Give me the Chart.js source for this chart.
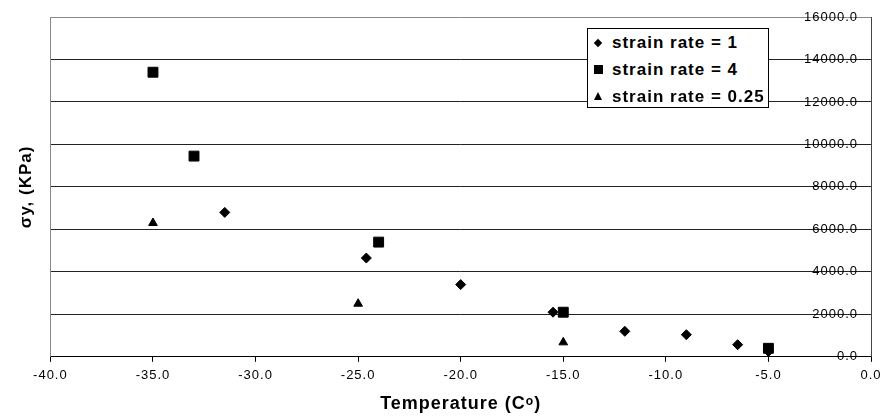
<!DOCTYPE html>
<html>
<head>
<meta charset="utf-8">
<script src="https://cdn.jsdelivr.net/npm/chart.js@4.4.1/dist/chart.umd.min.js"></script>
<style>
  html, body { margin: 0; padding: 0; background: #fff; }
  #wrap { position: relative; width: 881px; height: 418px; }
  #legend {
    position: absolute; left: 587px; top: 28px; width: 182px; height: 80px;
    box-sizing: border-box; border: 1px solid #000; background: #fff;
    font: bold 17px "Liberation Sans", Arial, sans-serif; letter-spacing: 1px; color: #000;
  }
  .row { position: relative; height: 27px; line-height: 27px; padding-left: 24px; white-space: nowrap; }
  .mk { position: absolute; top: 50%; background: #000; }
  .mk.diamond { left: 7px; width: 6px; height: 6px; margin-top: -3px; transform: rotate(45deg); }
  .mk.square { left: 6px; width: 9px; height: 9px; margin-top: -5px; }
  .mk.triangle { left: 6px; width: 0; height: 0; margin-top: -5px; background: none;
    border-left: 4.5px solid transparent; border-right: 4.5px solid transparent; border-bottom: 8px solid #000; }
</style>
</head>
<body>
<div id="wrap">
  <canvas id="chart"></canvas>
  <div id="legend"></div>
</div>
<script>
// data
const seriesNames = ["strain rate = 1", "strain rate = 4", "strain rate = 0.25"];
const markers = ["diamond", "square", "triangle"];

const temps1 = [-31.5, -24.6, -20, -15.5, -12, -9, -6.5, -5];
const stress1 = [6800, 4650, 3400, 2100, 1200, 1040, 570, 250];

const temps4 = [-35, -33, -24, -15, -5];
const stress4 = [13400, 9450, 5400, 2100, 400];

const temps025 = [-35, -25, -15];
const stress025 = [6300, 2500, 680];

const xTitle = "Temperature (Cᵒ)";
const yTitle = "σy, (KPa)";

const FONT = '"Liberation Sans", Arial, sans-serif';

function toPoints(xs, ys) {
  return xs.map((x, i) => ({ x, y: ys[i] }));
}

// excel-ish wide text
const spacing = {
  id: 'spacing',
  beforeDraw(chart) { chart.ctx.letterSpacing = '1px'; }
};

// left plot border (grey) and the value axis on the right
const frame = {
  id: 'frame',
  beforeDatasetsDraw(chart) {
    const { ctx, chartArea: a } = chart;
    ctx.save();
    ctx.lineWidth = 1;
    ctx.strokeStyle = '#888';
    ctx.beginPath();
    ctx.moveTo(Math.round(a.left) + 0.5, a.top);
    ctx.lineTo(Math.round(a.left) + 0.5, a.bottom);
    ctx.stroke();
    ctx.strokeStyle = '#444';
    ctx.beginPath();
    ctx.moveTo(Math.round(a.right) + 0.5, a.top);
    ctx.lineTo(Math.round(a.right) + 0.5, a.bottom);
    ctx.stroke();
    ctx.restore();
  }
};

const ctx = document.getElementById('chart').getContext('2d');
new Chart(ctx, {
  type: 'scatter',
  data: {
    datasets: [
      { label: seriesNames[0], data: toPoints(temps1, stress1), pointStyle: 'rectRot', pointRadius: 5,
        backgroundColor: '#000', borderColor: '#000', borderWidth: 1, order: 3 },
      { label: seriesNames[1], data: toPoints(temps4, stress4), pointStyle: 'rect', pointRadius: 7,
        backgroundColor: '#000', borderColor: '#000', borderWidth: 1, order: 1 },
      { label: seriesNames[2], data: toPoints(temps025, stress025), pointStyle: 'triangle', pointRadius: 5,
        backgroundColor: '#000', borderColor: '#000', borderWidth: 1, order: 2 }
    ]
  },
  options: {
    responsive: true,
    maintainAspectRatio: false,
    animation: false,
    layout: { padding: { left: 0, right: 10, top: 17, bottom: 0 } },
    plugins: { legend: { display: false }, tooltip: { enabled: false } },
    scales: {
      x: {
        type: 'linear', position: 'bottom', min: -40, max: 0,
        afterFit(scale) { scale.paddingRight = 0; scale.paddingLeft = 0; },
        ticks: { stepSize: 5, padding: 6, color: '#000', font: { family: FONT, size: 13 },
                 callback: v => v.toFixed(1) },
        grid: { drawOnChartArea: false, tickLength: 5, color: '#000' },
        border: { color: '#000' },
        title: { display: true, text: xTitle, color: '#000',
                 font: { family: FONT, size: 18, weight: 'bold' }, padding: { top: 4, bottom: 3 } }
      },
      y: {
        position: 'right', min: 0, max: 16000,
        ticks: { stepSize: 2000, mirror: true, padding: -13, color: '#000', font: { family: FONT, size: 13 },
                 callback: v => v.toFixed(1) },
        grid: { drawTicks: false, color: c => c.tick && c.tick.value === 16000 ? '#888' : '#222' },
        border: { display: false }
      },
      yl: {
        position: 'left', min: 0, max: 16000,
        ticks: { display: false },
        grid: { display: false },
        border: { display: false },
        title: { display: true, text: yTitle, color: '#000',
                 font: { family: FONT, size: 17, weight: 'bold' }, padding: { top: 16, bottom: 6 } }
      }
    }
  },
  plugins: [spacing, frame]
});

// legend box
const legend = document.getElementById('legend');
seriesNames.forEach((name, i) => {
  const row = document.createElement('div');
  row.className = 'row';
  row.innerHTML = `<span class="mk ${markers[i]}"></span>${name}`;
  legend.appendChild(row);
});
</script>
</body>
</html>
